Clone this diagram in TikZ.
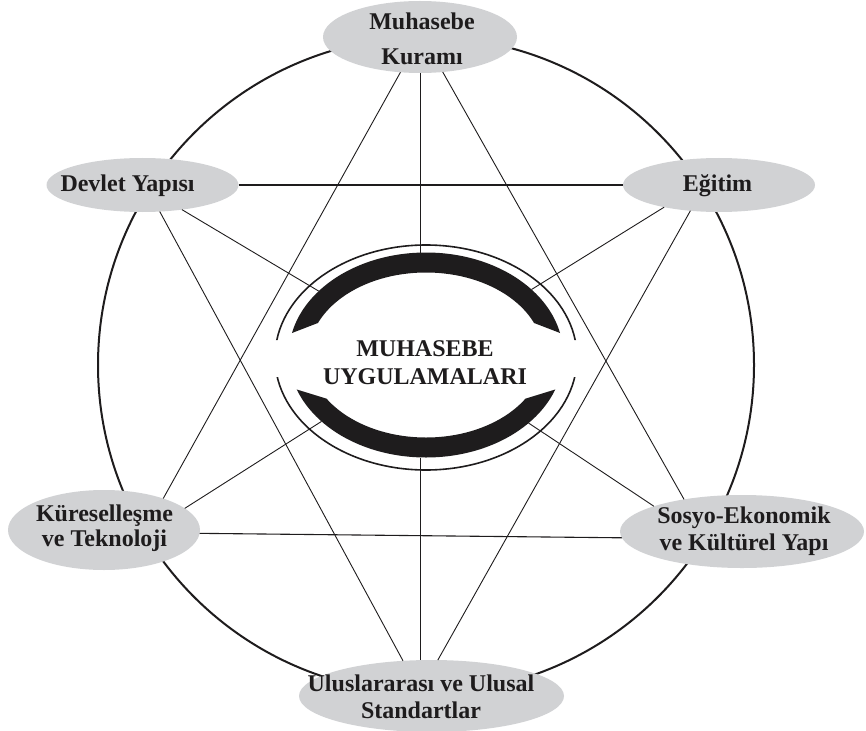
\documentclass[tikz,border=0pt]{standalone}
\usepackage{fontspec}
\setmainfont{Liberation Serif}
\usetikzlibrary{shapes.geometric}
\definecolor{ovalgray}{RGB}{209,210,212}
\definecolor{inkc}{RGB}{30,28,29}
\begin{document}
\begin{tikzpicture}[x=1pt,y=-1pt,
  oval/.style={ellipse,fill=ovalgray,draw=none,inner sep=0pt,outer sep=0pt},
  lbl/.style={font=\bfseries\fontsize{24}{27}\selectfont,align=center,inner sep=0pt,text=inkc},
  conn/.style={line width=0.9pt,draw=inkc},
  thickconn/.style={line width=1.6pt,draw=inkc}]
\useasboundingbox (0,0) rectangle (866,730);
% big circle
\draw[line width=2pt,inkc] (426,365) circle [radius=328];
% ovals
\node[oval,minimum width=194pt,minimum height=72pt] (mk) at (420,37) {};
\node[oval,minimum width=192pt,minimum height=54pt] (dev) at (142.5,185) {};
\node[oval,minimum width=192pt,minimum height=54pt] (egi) at (719,185) {};
\node[oval,minimum width=192pt,minimum height=80pt] (kur) at (104,530) {};
\node[oval,minimum width=244pt,minimum height=73pt] (sos) at (742,531.5) {};
\node[oval,minimum width=265pt,minimum height=72pt] (ulu) at (431.5,696) {};
\node[ellipse,inner sep=0pt,outer sep=0pt,minimum width=274.4pt,minimum height=205pt] (cen) at (426,355) {};
% labels
\node[lbl] (mkt) at (422,38.4) {Muhasebe\\[8pt]Kuramı};
\node[lbl] (devt) at (127.5,186.2) {Devlet Yapısı};
\node[lbl] (egit) at (717.5,186) {Eğitim};
\node[lbl] (kurt) at (104.5,528.4) {Küreselleşme\\[-2pt]ve Teknoloji};
\node[lbl] (sost) at (744,531.5) {Sosyo-Ekonomik\\ve Kültürel Yapı};
\node[lbl] (ulut) at (421,696.9) {Uluslararası ve Ulusal\\Standartlar};
% connectors
\draw[conn] (mk.241) -- (kur.28);
\draw[conn] (mk.303) -- (sos.151);
\draw[conn] (mk.south) -- (mk.south |- cen.north);
\draw[conn] (mk.south |- cen.south) -- (mk.south |- ulu.north);
\draw[thickconn] (dev.east) -- (egi.west);
\draw[conn] (dev.303) -- (ulu.129);
\draw[conn] (egi.222) -- (ulu.80);
\draw[line width=1.1pt,inkc] (kur.358) -- (sos.183);
\draw[conn] (dev.328) -- (cen);
\draw[conn] (egi.202) -- (cen);
\draw[conn] (kur.15) -- (cen);
\draw[conn] (sos.164) -- (cen);
% central emblem: thick bands
\begin{scope}
\clip (200,368.4) -- (340,314.5) -- (512,314.5) -- (652,368.4) -- (652,200) -- (200,200) -- cycle;
\fill[inkc,even odd rule] (426,355) ellipse [x radius=137.2,y radius=102.5]
  (426,355) ellipse [x radius=117.2,y radius=82.5];
\end{scope}
\begin{scope}
\clip (200,359.7) -- (340,402.8) -- (512,402.8) -- (652,359.7) -- (652,520) -- (200,520) -- cycle;
\fill[inkc,even odd rule] (426,355) ellipse [x radius=137.2,y radius=102.5]
  (426,355) ellipse [x radius=117.2,y radius=82.5];
\end{scope}
% thin outer ring with side gaps
\begin{scope}
\clip (250,230) rectangle (600,340) (250,377) rectangle (600,490);
\draw[line width=1.6pt,inkc] (426,357.5) ellipse [x radius=151,y radius=112.5];
\end{scope}
\node[lbl] (cent) at (425,362.9) {MUHASEBE\\[1.3pt]UYGULAMALARI};
\end{tikzpicture}
\end{document}
